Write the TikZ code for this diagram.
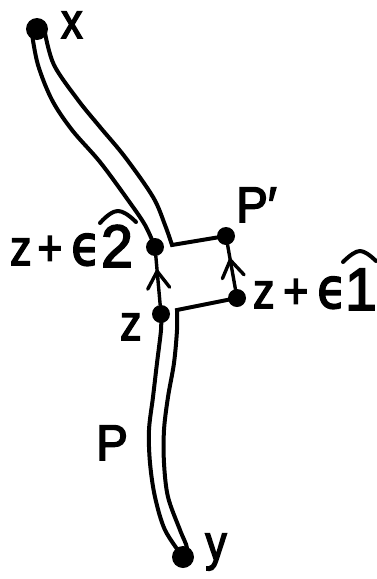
\documentclass[tikz,border=0pt]{standalone}
\usepackage{fontspec}
\newfontfamily\lab[FakeStretch=0.85,FakeBold=3]{Liberation Sans}
\newfontfamily\dig[FakeStretch=0.95,FakeBold=3]{Liberation Sans}
\newfontfamily\grk[FakeStretch=0.85,FakeBold=3]{DejaVu Sans}
\usetikzlibrary{decorations.markings}
\begin{document}
\begin{tikzpicture}[x=1pt,y=-1pt,
  dot/.style={circle,fill=black,inner sep=0pt,minimum size=18pt},
  bigdot/.style={dot,minimum size=22pt},
  rail/.style={line width=4pt,line cap=round,line join=miter},
  link/.style={line width=3.4pt,line cap=round},
  lbl/.style={inner sep=0pt,font=\lab\fontsize{50}{50}\selectfont},
  wide/.style={inner sep=0pt,font=\dig\fontsize{50}{50}\selectfont},
  digit/.style={inner sep=0pt,font=\dig\fontsize{60}{60}\selectfont},
  hat/.style={line width=4pt,line cap=round,line join=round},
  midarrow/.style={postaction={decorate},decoration={markings,mark=at position #1 with {\draw[line width=3.4pt,line cap=round,line join=round] (-17pt,-11pt) -- (0pt,0pt) -- (-17pt,11pt);}}}
]
\useasboundingbox (0,0) rectangle (377,579);
% points
\node[bigdot] (x) at (37,29) {};
\node[dot] (e2) at (155,247) {};
\node[dot] (z) at (161,314) {};
\node[dot] (Pp) at (226,236) {};
\node[dot] (e1) at (237,298) {};
\node[bigdot] (y) at (183,557) {};
\coordinate (c2) at (172,245);
\coordinate (c1) at (177,310);
\coordinate (xl) at (32,34);
\coordinate (xr) at (45,33);
% rails
\draw[rail] plot[smooth,tension=0.55] coordinates {(xl) (38,65) (52,100) (72,130) (100,162) (128,200) (145,225) (e2)};
\draw[rail] plot[smooth,tension=0.55] coordinates {(xr) (54,65) (78,100) (100,127) (125,157) (153,197) (165,225) (c2)} -- (Pp);
\draw[rail] plot[smooth,tension=0.55] coordinates {(z) (161,330) (157,363) (153,397) (149,430) (150,463) (155,497) (165,530) (y)};
\draw[rail] plot[smooth,tension=0.55] coordinates {(y) (187,548) (180,530) (168,497) (164,463) (164,430) (168,397) (174,363) (177,330) (c1)} -- (e1);
% links
\draw[link,midarrow=0.69] (z) -- (e2);
\draw[link,midarrow=0.66] (e1) -- (Pp);
% labels
\node[lbl,anchor=base west] (lx) at (61,38) {x};
\node[wide,anchor=base west] (lPp) at (236,222) {P′};
\node[lbl,anchor=base west] (le2) at (10,265) {z\hspace{6pt}+\hspace{9pt}{\grk\fontsize{56}{56}\selectfont ϵ}};
\node[digit,anchor=base] (d2) at (117,267) {2};
\draw[hat] (100,223) .. controls (108,214) and (114,211) .. (118,211) .. controls (122,211) and (128,214) .. (136,222);
\node[lbl,anchor=base west] (lz) at (120,340) {z};
\node[lbl,anchor=base west] (le1) at (253,308) {z\hspace{9pt}+\hspace{9pt}{\grk\fontsize{56}{56}\selectfont ϵ}};
\node[digit,anchor=base] (d1) at (361,310) {1};
\draw[hat] (343,262) .. controls (350,255) and (356,251) .. (360,251) .. controls (364,251) and (370,255) .. (376,261);
\node[wide,anchor=base west] (lP) at (96,460) {P};
\node[lbl,anchor=base] (ly) at (216,560) {y};
\end{tikzpicture}
\end{document}
